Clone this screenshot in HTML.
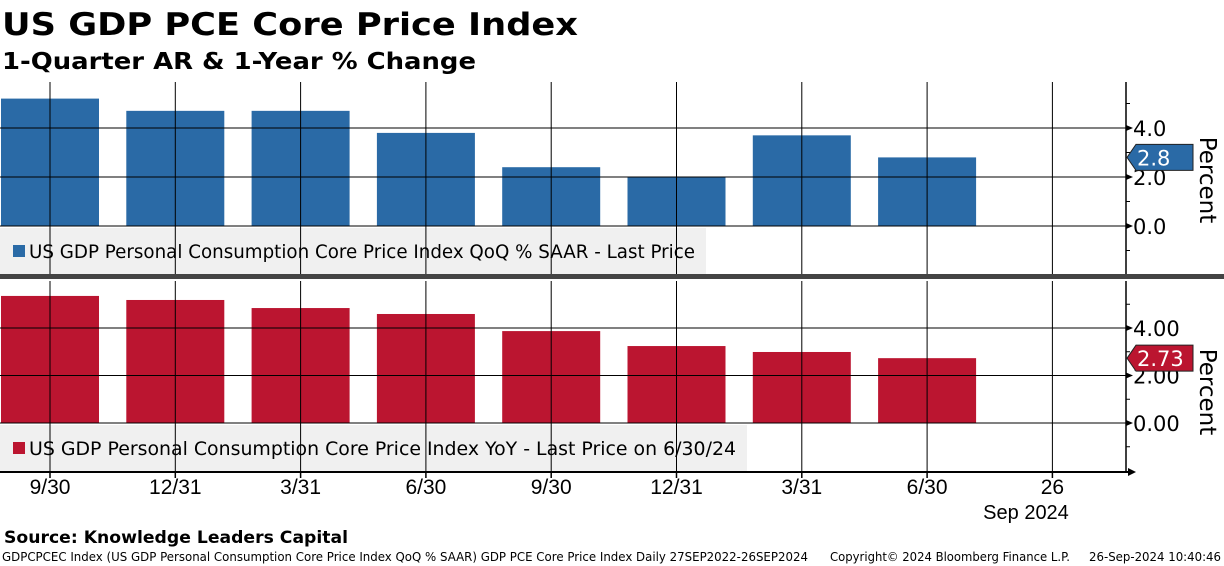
<!DOCTYPE html>
<html><head><meta charset="utf-8"><style>
html,body{margin:0;padding:0;background:#fff;}
svg{display:block;font-family:"DejaVu Sans","Liberation Sans",sans-serif;}
</style></head><body>
<svg id="chart" width="1224" height="566" viewBox="0 0 1224 566" xmlns="http://www.w3.org/2000/svg">
<text x="2" y="35" font-size="31" font-weight="bold" textLength="576" lengthAdjust="spacingAndGlyphs">US GDP PCE Core Price Index</text>
<text x="2" y="69" font-size="23" font-weight="bold" textLength="474" lengthAdjust="spacingAndGlyphs">1-Quarter AR &amp; 1-Year % Change</text>
<g id="top"></g>
<g id="bot"></g>
<rect x="0" y="274" width="1224" height="5" fill="#444"/>
<line x1="0" y1="472" x2="1128" y2="472" stroke="#000" stroke-width="2"/>
<g id="xt"></g>
<text x="1026" y="519" font-size="20" text-anchor="middle" font-family="Liberation Sans Narrow, Liberation Sans, sans-serif">Sep 2024</text>
<text x="4" y="543" font-size="17" font-weight="bold" textLength="344" lengthAdjust="spacingAndGlyphs">Source: Knowledge Leaders Capital</text>
<text x="2" y="561" font-size="12" textLength="806" lengthAdjust="spacingAndGlyphs">GDPCPCEC Index (US GDP Personal Consumption Core Price Index QoQ % SAAR) GDP PCE Core Price Index  Daily 27SEP2022-26SEP2024</text>
<text x="830" y="561" font-size="12" textLength="240" lengthAdjust="spacingAndGlyphs">Copyright© 2024 Bloomberg Finance L.P.</text>
<text x="1089" y="561" font-size="12" textLength="132" lengthAdjust="spacingAndGlyphs">26-Sep-2024 10:40:46</text>
</svg>
<script>
const categories=["9/30","12/31","3/31","6/30","9/30","12/31","3/31","6/30","26"];
const qoqValues=[5.2,4.7,4.7,3.8,2.4,2.0,3.7,2.8];
const yoyValues=[5.35,5.18,4.84,4.59,3.87,3.24,2.99,2.73];
const topTicks=["0.0","2.0","4.0"];
const botTicks=["0.00","2.00","4.00"];
const NS="http://www.w3.org/2000/svg";
function mk(p,t,a){const e=document.createElementNS(NS,t);for(const k in a)e.setAttribute(k,a[k]);p.appendChild(e);return e;}
function xPos(i){return 50+i*125.3;}
function panel(g,vals,ticks,y0,ppu,top,bottom,color,legend,legW,legTL,titleY,lastLabel,tag){
  const y=v=>y0-v*ppu;
  vals.forEach((v,i)=>{const r=mk(g,'rect',{x:xPos(i)-49,y:y(v),width:98,height:y(0)-y(v),fill:color});
    
    });
  const lb=mk(g,'rect',{x:0,y:y0+2,width:legW,height:bottom-y0-2,fill:'#f0f0f0'});
  
  
  categories.forEach((c,i)=>{const l=mk(g,'line',{x1:xPos(i),x2:xPos(i),y1:top,y2:bottom,stroke:'#000','stroke-width':1});
    
    });
  ticks.forEach((t,i)=>{const v=parseFloat(t);const yy=y(v);
    const l=mk(g,'line',{x1:0,x2:1126,y1:yy,y2:yy,stroke:'#000','stroke-width':1});
    
    
    mk(g,'path',{d:`M1126 ${yy-3}L1133 ${yy}L1126 ${yy+3}Z`,fill:'#000'});
    const tx=mk(g,'text',{x:1133,y:yy+8,'font-size':21});tx.textContent=t;
    
    });
  for(let v=-1;v<6;v+=2){const yy=y(v);if(yy>top&&yy<bottom)mk(g,'line',{x1:1126,x2:1130,y1:yy,y2:yy,stroke:'#000'});}
  mk(g,'line',{x1:1126,x2:1126,y1:top,y2:bottom,stroke:'#000','stroke-width':1.5});
  mk(g,'rect',{x:13,y:y0+19,width:12,height:12,fill:color});
  const lt=mk(g,'text',{x:29,y:y0+32,'font-size':19,textLength:legTL,lengthAdjust:'spacingAndGlyphs'});lt.textContent=legend;
  
  
  const last=vals[vals.length-1];const ly=y(last);
  mk(g,'path',{d:`M1127 ${ly}L1136 ${ly-13}L1193 ${ly-13}L1193 ${ly+13}L1136 ${ly+13}Z`,fill:color,stroke:'#222'});
  const vt=mk(g,'text',{x:1137,y:ly+8,'font-size':21,fill:'#fff'});vt.textContent=lastLabel;
  
  
  const at=mk(g,'text',{x:0,y:0,'font-size':23,transform:`translate(1200 ${titleY}) rotate(90)`,'text-anchor':'middle'});at.textContent='Percent';
  
  
}
panel(document.getElementById('top'),qoqValues,topTicks,226,24.5,82,274,'#2a6aa6','US GDP Personal Consumption Core Price Index QoQ % SAAR - Last Price',706,666,180,String(qoqValues[qoqValues.length-1]),'top');
panel(document.getElementById('bot'),yoyValues,botTicks,423,23.75,281,471,'#bb1530','US GDP Personal Consumption Core Price Index YoY - Last Price on 6/30/24',747,707,392,yoyValues[yoyValues.length-1].toFixed(2),'bottom');
const xt=document.getElementById('xt');
categories.forEach((c,i)=>{mk(xt,'line',{x1:xPos(i),x2:xPos(i),y1:472,y2:478,stroke:'#000','stroke-width':1.5});
  const t=mk(xt,'text',{x:xPos(i),y:494,'font-size':21,'text-anchor':'middle','font-family':'Liberation Sans Narrow, Liberation Sans, sans-serif'});t.textContent=c;
  
  });
mk(xt,'path',{d:'M1128 468L1136 472L1128 476Z',fill:'#000'});
</script>
</body></html>
